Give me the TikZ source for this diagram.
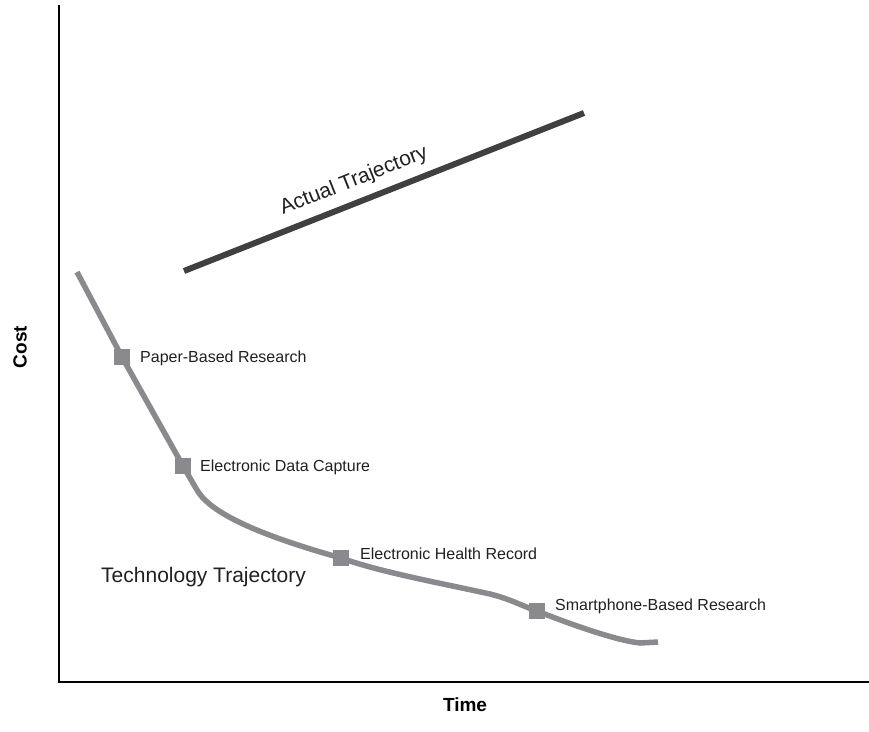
\documentclass[tikz,border=0pt]{standalone}
\usepackage{fontspec}
\setmainfont{Liberation Sans}
\definecolor{techgray}{HTML}{8A8A8E}
\definecolor{actgray}{HTML}{404040}
\definecolor{txt}{HTML}{231F20}
\begin{document}
\begin{tikzpicture}[x=1pt,y=-1pt,
  axis/.style={line width=1.5pt, draw=black},
  tech/.style={line width=5.5pt, draw=techgray},
  actual/.style={line width=6pt, draw=actgray},
  marker/.style={fill=techgray, minimum size=16pt, inner sep=0pt, draw=none},
  lbl/.style={anchor=west, inner sep=0pt, text=txt, font=\fontsize{16}{19}\selectfont},
  big/.style={inner sep=0pt, text=txt, font=\fontsize{21}{25}\selectfont},
  axlbl/.style={inner sep=0pt, text=black, font=\fontsize{19}{22}\selectfont\bfseries}]
\useasboundingbox (0,0) rectangle (869,731);
% axes
\coordinate (top) at (59,5);
\coordinate (origin) at (59,682);
\coordinate (right) at (869,682);
\draw[axis] (top) -- (origin) -- (right);
\node[axlbl, rotate=90] (cost) at (20,347) {Cost};
\node[axlbl] (time) at (465,705) {Time};
% actual trajectory
\coordinate (a1) at (184,271);
\coordinate (a2) at (584,113);
\draw[actual] (a1) -- (a2);
\node[big, rotate=21.55] (actlbl) at (354,181) {Actual Trajectory};
% technology trajectory
\coordinate (t0) at (77,272);
\coordinate (m1) at (122,357);
\coordinate (m2) at (183,466);
\coordinate (m3) at (341,558);
\coordinate (m4) at (537,611);
\coordinate (t5) at (658,642);
\draw[tech] (t0) -- (m1) -- (m2) -- (197,490)
  .. controls (212,516) and (270,538) .. (m3)
  .. controls (380,572) and (440,583) .. (490,594)
  .. controls (510,599) and (520,605) .. (m4)
  .. controls (580,628) and (620,641) .. (640,643) -- (t5);
\node[marker] (n1) at (m1) {};
\node[marker] (n2) at (m2) {};
\node[marker] (n3) at (m3) {};
\node[marker] (n4) at (m4) {};
\node[lbl] (l1) at (140,358) {Paper-Based Research};
\node[lbl] (l2) at (200,467) {Electronic Data Capture};
\node[lbl] (l3) at (360,554) {Electronic Health Record};
\node[lbl] (l4) at (555,606) {Smartphone-Based Research};
\node[big, anchor=west] (techlbl) at (101,577) {Technology Trajectory};
\end{tikzpicture}
\end{document}
